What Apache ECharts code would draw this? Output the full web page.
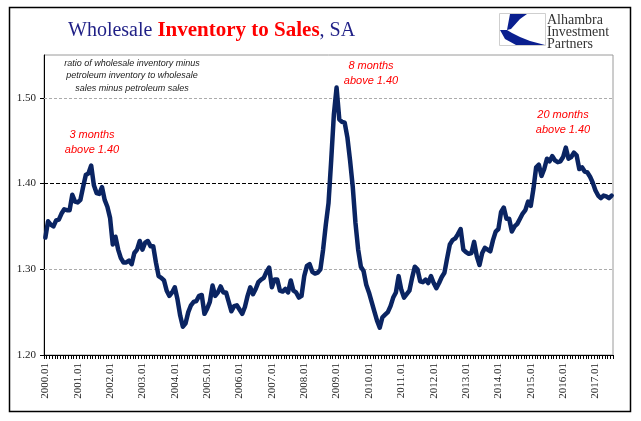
<!DOCTYPE html>
<html>
<head>
<meta charset="utf-8">
<script src="https://cdn.jsdelivr.net/npm/echarts@6/dist/echarts.min.js"></script>
<style>
  html, body { margin: 0; padding: 0; background: #fff; }
  #chart { width: 641px; height: 421px; }
</style>
</head>
<body>
<div id="chart"></div>
<script>
// Monthly categories 2000.01 .. 2017.07
const startYear = 2000;
const monthCount = 211;
const categories = [];
for (let k = 0; k < monthCount; k++) {
  const y = startYear + Math.floor(k / 12);
  const m = (k % 12) + 1;
  categories.push(y + '.' + (m < 10 ? '0' + m : '' + m));
}

// Ratio of wholesale inventory (ex petroleum) to wholesale sales (ex petroleum)
const ratio = [
  1.337, 1.356, 1.352, 1.350, 1.357, 1.358, 1.365, 1.370, 1.369, 1.369, 1.387, 1.379,
  1.378, 1.381, 1.396, 1.410, 1.412, 1.421, 1.398, 1.389, 1.388, 1.396, 1.381, 1.373,
  1.360, 1.329, 1.338, 1.323, 1.313, 1.308, 1.308, 1.310, 1.306, 1.319, 1.323, 1.333,
  1.323, 1.331, 1.333, 1.327, 1.327, 1.308, 1.292, 1.290, 1.287, 1.275, 1.269, 1.273,
  1.279, 1.265, 1.246, 1.233, 1.237, 1.250, 1.258, 1.262, 1.263, 1.269, 1.270, 1.248,
  1.254, 1.262, 1.281, 1.269, 1.273, 1.280, 1.273, 1.273, 1.262, 1.251, 1.257, 1.258,
  1.253, 1.248, 1.256, 1.269, 1.279, 1.271, 1.277, 1.285, 1.288, 1.290, 1.297, 1.302,
  1.279, 1.288, 1.288, 1.275, 1.274, 1.277, 1.273, 1.287, 1.275, 1.273, 1.267, 1.269,
  1.292, 1.304, 1.306, 1.297, 1.295, 1.296, 1.300, 1.323, 1.352, 1.377, 1.427, 1.481,
  1.512, 1.475, 1.472, 1.471, 1.454, 1.427, 1.396, 1.354, 1.323, 1.303, 1.298, 1.282,
  1.273, 1.262, 1.251, 1.240, 1.232, 1.244, 1.247, 1.250, 1.257, 1.267, 1.273, 1.292,
  1.276, 1.267, 1.271, 1.275, 1.290, 1.303, 1.300, 1.286, 1.285, 1.288, 1.284, 1.292,
  1.284, 1.278, 1.284, 1.291, 1.296, 1.313, 1.329, 1.334, 1.336, 1.341, 1.347, 1.323,
  1.320, 1.318, 1.319, 1.332, 1.315, 1.305, 1.319, 1.325, 1.323, 1.321, 1.334, 1.344,
  1.347, 1.367, 1.372, 1.359, 1.359, 1.344, 1.350, 1.353, 1.359, 1.365, 1.369, 1.379,
  1.374, 1.394, 1.419, 1.422, 1.409, 1.417, 1.429, 1.426, 1.432, 1.427, 1.425, 1.426,
  1.431, 1.442, 1.429, 1.431, 1.436, 1.433, 1.417, 1.419, 1.414, 1.413, 1.408, 1.401,
  1.392, 1.386, 1.383, 1.386, 1.385, 1.383, 1.386
];

const yTicks = [1.20, 1.30, 1.40, 1.50];
const threshold = 1.40;
const grayGuides = [1.30, 1.50];

const chart = echarts.init(document.getElementById('chart'), null, { renderer: 'canvas' });

const serif = '"Liberation Serif", "Times New Roman", serif';
const sans = '"Liberation Sans", Arial, sans-serif';

const option = {
  animation: false,
  backgroundColor: '#ffffff',
  title: {
    text: '{a|Wholesale }{b|Inventory to Sales}{a|, SA}',
    left: 63,
    top: 15,
    textStyle: {
      fontWeight: 'normal',
      rich: {
        a: { fontFamily: serif, fontSize: 20, fontWeight: 'normal', color: '#1f1f86' },
        b: { fontFamily: serif, fontSize: 21, fontWeight: 'bold', color: '#ff0000' }
      }
    }
  },
  grid: {
    left: 44, right: 28, top: 55, bottom: 66,
    show: true, borderColor: '#9a9a9a', borderWidth: 1, backgroundColor: 'transparent'
  },
  xAxis: {
    type: 'category',
    data: categories,
    boundaryGap: true,
    axisLine: { show: true, lineStyle: { color: '#000', width: 1 } },
    axisTick: { show: true, interval: 0, length: 4, lineStyle: { color: '#000', width: 1 } },
    axisLabel: {
      interval: function (idx) { return idx % 12 === 0; },
      rotate: 90,
      margin: 8,
      fontFamily: serif,
      fontSize: 11,
      color: '#222'
    },
    splitLine: { show: false }
  },
  yAxis: {
    type: 'value',
    min: 1.20,
    max: 1.55,
    interval: 0.1,
    axisLine: { show: true, lineStyle: { color: '#000', width: 1 } },
    axisTick: { show: true, length: 4, customValues: yTicks, lineStyle: { color: '#000' } },
    axisLabel: {
      customValues: yTicks,
      formatter: function (v) { return v.toFixed(2); },
      margin: 8,
      fontFamily: serif,
      fontSize: 11,
      color: '#222'
    },
    splitLine: { show: false }
  },
  series: [{
    type: 'line',
    data: ratio,
    showSymbol: false,
    symbol: 'none',
    smooth: false,
    lineStyle: { color: '#0a2462', width: 4.5, join: 'round', cap: 'round' },
    z: 5,
    markLine: {
      silent: true,
      symbol: ['none', 'none'],
      label: { show: false },
      z: 3,
      data: [
        { yAxis: grayGuides[0], lineStyle: { color: '#ababab', width: 1, type: [3, 2] } },
        { yAxis: grayGuides[1], lineStyle: { color: '#ababab', width: 1, type: [3, 2] } },
        { yAxis: threshold, lineStyle: { color: '#000000', width: 1, type: [4, 2] } }
      ]
    }
  }],
  graphic: [
    { type: 'rect', shape: { x: 9.5, y: 7.5, width: 621, height: 404 },
      style: { fill: 'none', stroke: '#000', lineWidth: 1.5 }, z: 0 },
    // logo box
    { type: 'rect', shape: { x: 499.5, y: 13.5, width: 46, height: 32 },
      style: { fill: '#fff', stroke: '#cfcfcf', lineWidth: 1 }, z: 10 },
    { type: 'polygon', shape: { points: [[510, 14], [527, 14], [520, 19], [511, 29], [507, 30]] },
      style: { fill: '#0a1f8f' }, z: 11 },
    { type: 'polygon', shape: { points: [[500, 30], [507, 30], [512, 33], [520, 37], [530, 41], [545, 45], [516, 45], [505, 39]] },
      style: { fill: '#0a1f8f' }, z: 11 },
    { type: 'text', left: 547, top: 13, z: 11,
      style: { text: 'Alhambra\nInvestment\nPartners', font: '14px ' + serif, fill: '#333', lineHeight: 12 } },
    // annotation texts
    { type: 'text', x: 132, y: 57, z: 12,
      style: { text: 'ratio of wholesale inventory minus\npetroleum inventory to wholesale\nsales minus petroleum sales',
        font: 'italic 9px ' + sans, fill: '#222', textAlign: 'center', lineHeight: 12.5 } },
    { type: 'text', x: 92, y: 127, z: 12,
      style: { text: '3 months\nabove 1.40', font: 'italic 11px ' + sans, fill: '#ff0000', textAlign: 'center', lineHeight: 15 } },
    { type: 'text', x: 371, y: 58, z: 12,
      style: { text: '8 months\nabove 1.40', font: 'italic 11px ' + sans, fill: '#ff0000', textAlign: 'center', lineHeight: 15 } },
    { type: 'text', x: 563, y: 107, z: 12,
      style: { text: '20 months\nabove 1.40', font: 'italic 11px ' + sans, fill: '#ff0000', textAlign: 'center', lineHeight: 15 } }
  ]
};

chart.setOption(option);
</script>
</body>
</html>
